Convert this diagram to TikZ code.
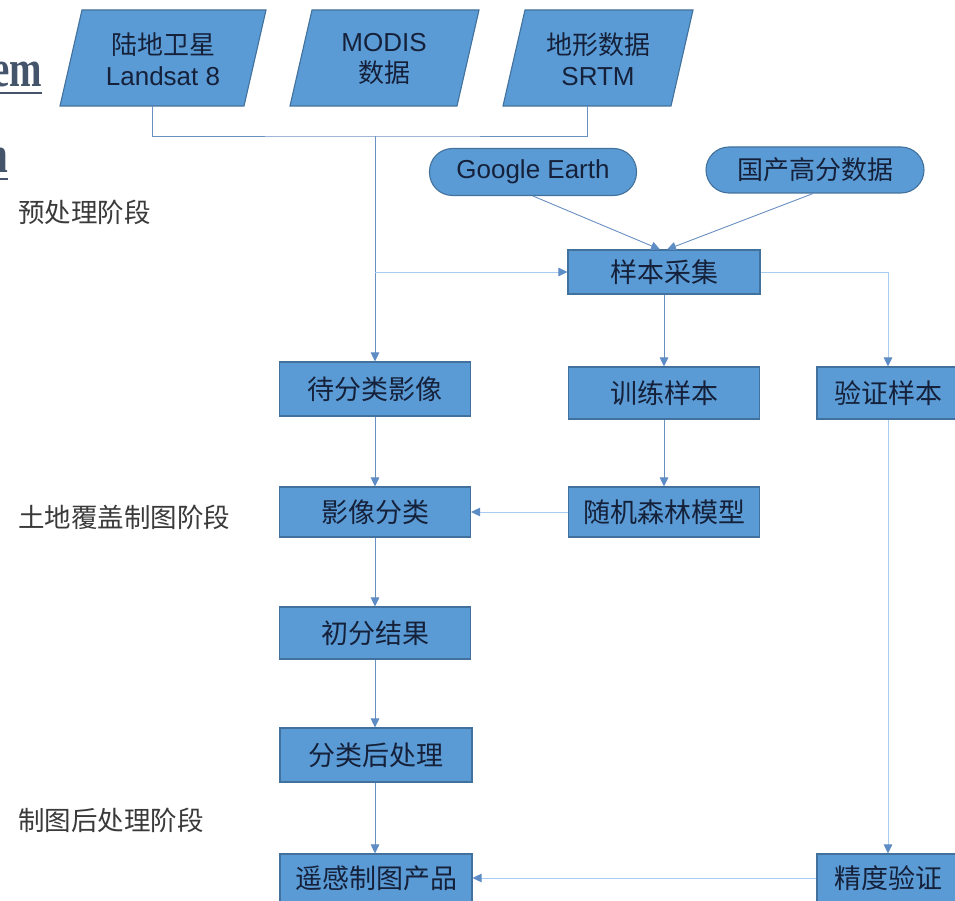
\documentclass[tikz,border=0pt]{standalone}
\usepackage{fontspec}
\setmainfont{Liberation Sans}
\newfontfamily\cjk{Noto Sans CJK SC}
\newfontfamily\headserif{Liberation Serif}
\usetikzlibrary{arrows.meta,positioning}
\definecolor{fillc}{HTML}{5B9BD5}
\definecolor{bdr}{HTML}{41719C}
\definecolor{txt}{HTML}{15213A}
\definecolor{lnd}{HTML}{6A8FC2}
\definecolor{lnl}{HTML}{A9CDEE}
\definecolor{tipc}{HTML}{5E8CC4}
\definecolor{sidec}{HTML}{3A3A3A}
\definecolor{headc}{HTML}{44546A}
\tikzset{
  x=1pt, y=-1pt,
  box/.style={draw=bdr, fill=fillc, line width=1.1pt, minimum width=191pt,
    minimum height=50pt, inner sep=0pt, text=txt, font=\cjk\fontsize{27}{30}\selectfont},
  stad/.style={draw=bdr, fill=fillc, line width=1.1pt, rounded corners=23pt,
    inner sep=0pt, text=txt, font=\fontsize{26}{30}\selectfont},
  para/.style={draw=bdr, fill=fillc, line width=1.1pt},
  ptext/.style={text=txt, align=center, font=\fontsize{26}{31}\selectfont, inner sep=0pt},
  side/.style={anchor=west, text=sidec, inner sep=0pt, font=\cjk\fontsize{26.5}{30}\selectfont},
  ln/.style={draw=lnd, line width=0.9pt},
  lnl/.style={draw=lnl, line width=0.9pt},
  arr/.style={-{Triangle[length=9pt,width=8.5pt,color=tipc]}},
  headtxt/.style={anchor=base east, inner sep=0pt, text=headc, xscale=0.75,
    font=\headserif\bfseries\fontsize{52}{60}\selectfont},
}
\begin{document}
\begin{tikzpicture}
\useasboundingbox (0,0) rectangle (955,901);
\clip (0,0) rectangle (955,901);
\fill[white] (0,0) rectangle (955,901);

% clipped heading fragments
\node[headtxt] (h1) at (42,87) {em};
\node[headtxt] (h2) at (8,173) {n};
\draw[headc, line width=2.5pt] (0,93) -- (42,93);
\draw[headc, line width=2.5pt] (0,179) -- (8,179);

% input parallelograms
\draw[para] (82,10) -- (266,10) -- (244,106) -- (60,106) -- cycle;
\draw[para] (312,10) -- (479,10) -- (457,106) -- (290,106) -- cycle;
\draw[para] (525,10) -- (693,10) -- (671,106) -- (503,106) -- cycle;
\node[ptext] (p1) at (163,59) {{\cjk 陆地卫星}\\Landsat 8};
\node[ptext] (p2) at (384,59) {MODIS\\{\cjk 数据}};
\node[ptext] (p3) at (598,59) {{\cjk 地形数据}\\SRTM};
\coordinate (p1b) at (152,106);
\coordinate (p3b) at (587,106);
\coordinate (j) at (375,136);
\coordinate (k) at (375,272);

% side labels
\node[side] (s1) at (18,212) {预处理阶段};
\node[side] (s2) at (18,517) {土地覆盖制图阶段};
\node[side] (s3) at (18,820) {制图后处理阶段};

% sources
\node[stad, minimum width=207pt, minimum height=47pt] (ge) at (533,172) {Google Earth};
\node[stad, minimum width=218pt, minimum height=46pt, font=\cjk\fontsize{26}{30}\selectfont] (gf) at (815,170) {国产高分数据};

% process boxes
\node[box, minimum width=192pt, minimum height=44pt] (cj) at (664,272) {样本采集};
\node[box, minimum height=54pt] (dfl) at (375,389) {待分类影像};
\node[box, minimum height=52pt] (xl) at (664,393) {训练样本};
\node[box, minimum width=142pt, minimum height=52pt] (yz) at (888,393) {验证样本};
\node[box] (yxfl) at (375,512) {影像分类};
\node[box] (sl) at (664,512) {随机森林模型};
\node[box, minimum height=52pt] (cf) at (375,633) {初分结果};
\node[box, minimum width=192pt, minimum height=54pt] (flh) at (376,755) {分类后处理};
\node[box, minimum width=192pt, minimum height=48pt] (cp) at (376,878) {遥感制图产品};
\node[box, minimum width=142pt, minimum height=48pt] (jd) at (888,878) {精度验证};

% connectors
\draw[ln] (p1b) |- (j) -| (p3b);
\draw[ln, arr] (j) -- (dfl.north);
\draw[lnl, arr] (k) -- (cj.west);
\draw[ln, arr] (ge.south) -- ([xshift=-4pt]cj.north);
\draw[ln, arr] ([xshift=-2pt]gf.south) -- ([xshift=3pt]cj.north);
\draw[lnl, arr] (cj.east) -| (yz.north);
\draw[ln, arr] (cj.south) -- (xl.north);
\draw[ln, arr] (xl.south) -- (sl.north);
\draw[ln, arr] (dfl.south) -- (yxfl.north);
\draw[lnl, arr] (sl.west) -- (yxfl.east);
\draw[ln, arr] (yxfl.south) -- (cf.north);
\draw[ln, arr] (cf.south) -- ([xshift=-1pt]flh.north);
\draw[ln, arr] ([xshift=-1pt]flh.south) -- ([xshift=-1pt]cp.north);
\draw[lnl, arr] (yz.south) -- (jd.north);
\draw[lnl, arr] (jd.west) -- (cp.east);
\end{tikzpicture}
\end{document}
